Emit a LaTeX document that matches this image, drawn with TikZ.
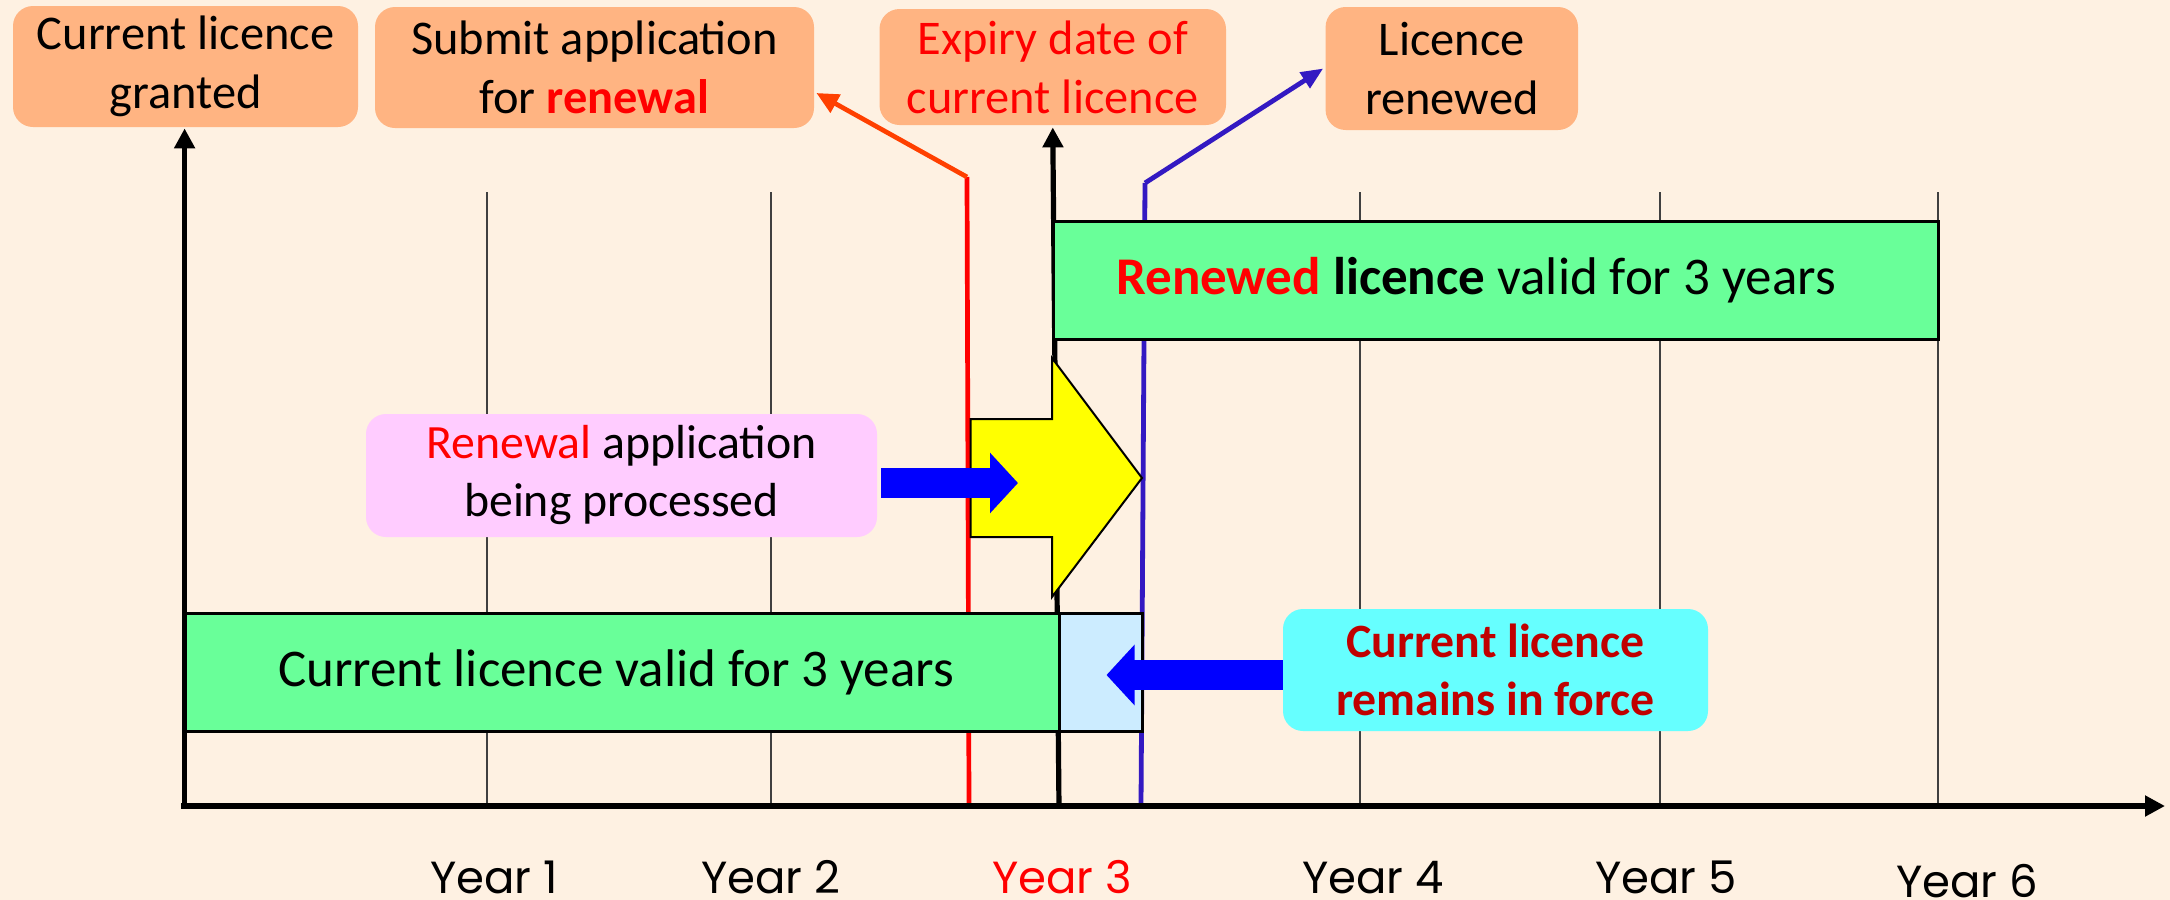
\documentclass[tikz,border=0pt]{standalone}
\usepackage{fontspec}
\setmainfont{Carlito}
\newfontfamily\yearfont{Poppins}
\usetikzlibrary{arrows.meta}
\definecolor{bgc}{HTML}{FEF1E2}
\definecolor{peach}{HTML}{FFB482}
\definecolor{greenc}{HTML}{69FF99}
\definecolor{lblue}{HTML}{CCECFF}
\definecolor{cyanc}{HTML}{66FFFF}
\definecolor{pinkc}{HTML}{FFCCFF}
\definecolor{yel}{HTML}{FFFF00}
\definecolor{fatblue}{HTML}{0000FF}
\definecolor{lineblue}{HTML}{3319C2}
\definecolor{redor}{HTML}{FF4000}
\definecolor{darkredc}{HTML}{C00000}
\definecolor{gridc}{HTML}{404040}
\begin{document}
\begin{tikzpicture}[x=0.5pt,y=-0.5pt,
  topbox/.style={fill=peach, rounded corners=10pt, align=center, inner sep=0pt,
    font=\fontsize{24.2}{29.5}\selectfont},
  midbox/.style={rounded corners=10pt, align=center, inner sep=0pt,
    font=\fontsize{23.9}{29}\selectfont},
  bigbox/.style={draw=black, line width=1.5pt, fill=greenc, inner sep=0pt,
    minimum height=59pt, font=\fontsize{26.5}{31}\selectfont},
  gridline/.style={draw=gridc, line width=0.7pt},
  axisline/.style={draw=black, line width=3pt, -{Triangle[length=10pt,width=10pt]}},
  vline/.style={line width=2.6pt, -{Triangle[length=10pt,width=10pt]}},
  thinline/.style={line width=2.35pt},
  fatarrow/.style={draw=fatblue, line width=15pt, -{Triangle[length=14pt,width=29.5pt]}},
  yearlbl/.style={font=\yearfont\fontsize{22.5}{27}\selectfont, anchor=base, inner sep=0pt, text depth=0pt}
]
\useasboundingbox (0,0) rectangle (2170,900);
\fill[bgc] (0,0) rectangle (2170,900);

% top boxes
\node[topbox, minimum width=172.5pt, minimum height=60.5pt] (b1) at (185.5,66.5) {Current licence\\granted};
\node[topbox, minimum width=219.5pt, minimum height=60.5pt] (b2) at (594.5,67.5) {Submit application\\for \textcolor{red}{\textbf{renewal}}};
\node[topbox, minimum width=173.25pt, minimum height=58pt, text=red] (b3) at (1052.75,67) {Expiry date of\\current licence};
\node[topbox, minimum width=126.2pt, minimum height=61.5pt] (b4) at (1451.8,68.5) {Licence\\renewed};

% grid lines
\foreach \gx/\gn in {487/g1,771/g2,1360/g4,1660/g5,1938/g6}{
  \coordinate (\gn t) at (\gx,192);
  \coordinate (\gn b) at (\gx,806);
  \draw[gridline] (\gn t) -- (\gn b);
}

% red line (application submitted)
\coordinate (rbot) at (969,806);
\coordinate (rknee) at (967,177);
\draw[thinline, red] (rbot) -- (rknee);
\draw[thinline, redor, -{Triangle[length=11pt,width=10pt]}] (rknee) -- ([xshift=1pt,yshift=-12.75pt]b2.east);

% blue line (licence renewed)
\coordinate (bbot) at (1141,806);
\coordinate (bknee) at (1145,183);
\draw[line width=2.4pt, lineblue] (bbot) -- (bknee);
\draw[line width=2.4pt, lineblue, -{Triangle[length=11pt,width=9pt]}] (bknee) -- ([xshift=-1pt]b4.west);

% black expiry line
\coordinate (ebot) at (1059,808);
\draw[vline] (ebot) -- ([yshift=-1pt]b3.south);

% licence boxes
\node[bigbox, minimum width=437.5pt] (cur) at (621.5,672) {Current licence valid for 3 years\hspace*{5.5pt}};
\node[bigbox, fill=lblue, minimum width=41.5pt] (rf) at (1100.5,672) {};
\node[bigbox, minimum width=442.5pt] (ren) at (1495.5,280) {\textcolor{red}{\textbf{Renewed}} \textbf{licence} valid for 3 years\hspace*{19.5pt}};

% yellow arrow
\coordinate (ytip) at (1142,478);
\draw[fill=yel, draw=black, line width=1pt] (970.6,419) -- (1052,419) -- (1052,358) -- (ytip) -- (1052,597) -- (1052,537) -- (970.6,537) -- cycle;

% pink and cyan boxes
\node[midbox, fill=pinkc, minimum width=255.5pt, minimum height=61.5pt] (pk) at (621.5,475.5) {\textcolor{red}{Renewal} application\\being processed};
\node[midbox, fill=cyanc, text=darkredc, font=\fontsize{23.9}{29}\selectfont\bfseries, minimum width=212.5pt, minimum height=61pt] (cy) at (1495.5,670) {Current licence\\remains in force};

% fat blue arrows
\coordinate (yin) at (1018,483);
\coordinate (rfin) at (1106.5,675);
\draw[fatarrow] ([xshift=2pt,yshift=-3.75pt]pk.east) -- (yin);
\draw[fatarrow] ([yshift=-2.5pt]cy.west) -- (rfin);

% axes
\coordinate (org) at (181,806);
\coordinate (xend) at (2165,806);
\coordinate (ybot) at (184.6,808);
\draw[axisline] (org) -- (xend);
\draw[vline] (ybot) -- ([xshift=-0.45pt,yshift=-0.5pt]b1.south);

% year labels
\node[yearlbl] (y1) at (494,893) {Year 1};
\node[yearlbl] (y2) at (771,893) {Year 2};
\node[yearlbl, text=red] (y3) at (1062,893) {Year 3};
\node[yearlbl] (y4) at (1373,893) {Year 4};
\node[yearlbl] (y5) at (1666,893) {Year 5};
\node[yearlbl] (y6) at (1967,897) {Year 6};
\end{tikzpicture}
\end{document}
